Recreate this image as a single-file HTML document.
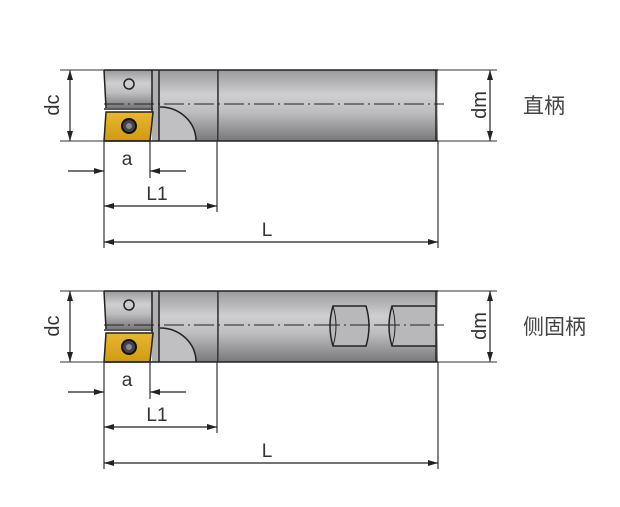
<!DOCTYPE html>
<html><head><meta charset="utf-8"><style>
html,body{margin:0;padding:0;background:#fff;}
svg{display:block;}
text{font-family:"Liberation Sans",sans-serif;fill:#333;}
.cj{font-family:"Liberation Sans","Noto Sans CJK SC",sans-serif;fill:#444;}
</style></head><body>
<svg width="620" height="507" viewBox="0 0 620 507" xmlns="http://www.w3.org/2000/svg">
<defs>
<linearGradient id="g" x1="0" y1="0" x2="0" y2="1">
<stop offset="0" stop-color="#9a9a9c"/>
<stop offset="0.35" stop-color="#cfcfd1"/>
<stop offset="0.6" stop-color="#bdbdbf"/>
<stop offset="1" stop-color="#78787a"/>
</linearGradient>
<linearGradient id="y" x1="0" y1="0" x2="0" y2="1">
<stop offset="0" stop-color="#e6b830"/>
<stop offset="1" stop-color="#d09a10"/>
</linearGradient>
<marker id="ar" viewBox="0 0 10 6" refX="10" refY="3" markerWidth="10" markerHeight="6" orient="auto-start-reverse" markerUnits="userSpaceOnUse">
<path d="M0,0 L10,3 L0,6 z" fill="#222"/>
</marker>
<g id="tool">
<rect x="160" y="70" width="58" height="71" fill="url(#g)"/>
<rect x="219" y="70" width="219" height="71" fill="url(#g)"/>
<path d="M104,70 L152,70 L152,108 L106,108 Z" fill="url(#g)"/>
<rect x="152" y="70" width="8" height="71" fill="#b0b0b2"/>
<path d="M160,107 A36,34 0 0 1 196,141 L160,141 Z" fill="#c0c0c2"/>
<path d="M160,107 A36,34 0 0 1 196,141" fill="none" stroke="#222" stroke-width="1.5"/>
<path d="M106,112 L153,112 L150,141 L104,141 Z" fill="url(#y)" stroke="#222" stroke-width="1.5"/>
<circle cx="129" cy="126" r="7" fill="#444" stroke="#111" stroke-width="2"/>
<circle cx="129" cy="126" r="3" fill="#889"/>
<circle cx="129" cy="84" r="5" fill="none" stroke="#222" stroke-width="1.5"/>
<line x1="104" y1="109" x2="153" y2="109" stroke="#222" stroke-width="1.5"/>
<path d="M104,70 L438,70 M104,141 L438,141" stroke="#222" stroke-width="1.5"/>
<path d="M104,70 L106,108 M152,70 L152,112 M159,70 L159,141 M218,70 L218,141 M436,70 L436,141" stroke="#222" stroke-width="1.5"/>
<line x1="104" y1="104" x2="444" y2="104" stroke="#222" stroke-width="1" stroke-dasharray="20,4,2,4"/>
<line x1="60" y1="70" x2="104" y2="70" stroke="#333" stroke-width="1"/>
<line x1="60" y1="141" x2="104" y2="141" stroke="#333" stroke-width="1"/>
<line x1="70" y1="70" x2="70" y2="141" stroke="#222" stroke-width="1.2" marker-start="url(#ar)" marker-end="url(#ar)"/>
<text x="0" y="0" font-size="20" transform="translate(59,105) rotate(-90)" text-anchor="middle">dc</text>
<line x1="438" y1="70" x2="497" y2="70" stroke="#333" stroke-width="1"/>
<line x1="438" y1="141" x2="497" y2="141" stroke="#333" stroke-width="1"/>
<line x1="490" y1="70" x2="490" y2="141" stroke="#222" stroke-width="1.2" marker-start="url(#ar)" marker-end="url(#ar)"/>
<text x="0" y="0" font-size="20" transform="translate(486,105) rotate(-90)" text-anchor="middle">dm</text>
<path d="M104,141 V248 M150,141 V178 M217,141 V212 M438,141 V248" stroke="#333" stroke-width="1.2"/>
<line x1="68" y1="171" x2="104" y2="171" stroke="#222" stroke-width="1.2" marker-end="url(#ar)"/>
<line x1="186" y1="171" x2="150" y2="171" stroke="#222" stroke-width="1.2" marker-end="url(#ar)"/>
<text x="127" y="165" font-size="19" text-anchor="middle">a</text>
<line x1="104" y1="206" x2="217" y2="206" stroke="#222" stroke-width="1.2" marker-start="url(#ar)" marker-end="url(#ar)"/>
<text x="157" y="200" font-size="19" text-anchor="middle">L1</text>
<line x1="104" y1="242" x2="438" y2="242" stroke="#222" stroke-width="1.2" marker-start="url(#ar)" marker-end="url(#ar)"/>
<text x="267" y="236" font-size="19" text-anchor="middle">L</text>
</g>
</defs>
<use href="#tool"/>
<use href="#tool" transform="translate(0,221)"/>
<g stroke="#222" stroke-width="1.5" fill="#b8b8ba">
<path d="M333,306 L366,306 Q372,326 366,346 L333,346 Q327,326 333,306 Z"/>
<path d="M333,306 Q339,326 333,346" fill="none" stroke-width="1"/>
<path d="M392,306 L436,306 L436,346 L392,346 Q386,326 392,306 Z"/>
<path d="M392,306 Q398,326 392,346" fill="none" stroke-width="1"/>
</g>
<line x1="320" y1="325" x2="444" y2="325" stroke="#222" stroke-width="1" stroke-dasharray="20,4,2,4"/>
<text x="523" y="113" font-size="21" class="cj">直柄</text>
<text x="523" y="334" font-size="21" class="cj">侧固柄</text>
</svg>
</body></html>
